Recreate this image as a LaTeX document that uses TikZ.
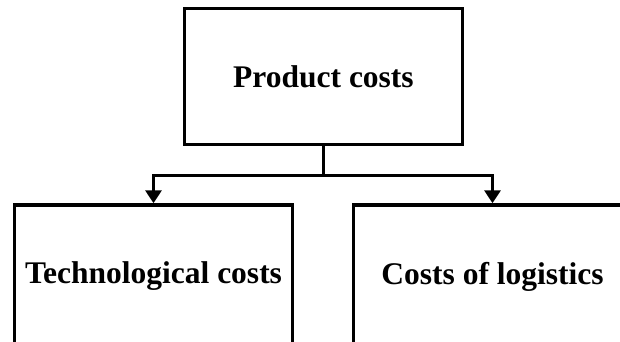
\documentclass[tikz,border=0pt]{standalone}
\usepackage{fontspec}
\setmainfont{Liberation Serif}
\usetikzlibrary{arrows.meta}
\begin{document}
\begin{tikzpicture}[x=1pt,y=1pt,
  costbox/.style={draw=black,line width=3.5pt,fill=white,minimum width=278pt,minimum height=136pt,inner sep=0pt,
    font=\fontsize{31.5}{37}\selectfont\bfseries,align=center},
  tallbox/.style={costbox,minimum height=160pt},
  conn/.style={line width=3.5pt,draw=black},
  arr/.style={conn,-{Triangle[length=13pt,width=16pt]}}]
\useasboundingbox (0,0) rectangle (620,-342);
\clip (0,0) rectangle (620,-342);
\node[costbox] (top) at (323.5,-76.5) {Product costs};
\node[tallbox] (left) at (153.5,-285) {\raisebox{24pt}{Technological costs}};
\node[tallbox] (right) at (492.5,-285) {\raisebox{24pt}{Costs of logistics}};
\coordinate (j) at (323.5,-175.5);
\draw[conn] (top.south) -- (j);
\draw[arr] (j) -| (left.north);
\draw[arr] (j) -| (right.north);
\end{tikzpicture}
\end{document}
